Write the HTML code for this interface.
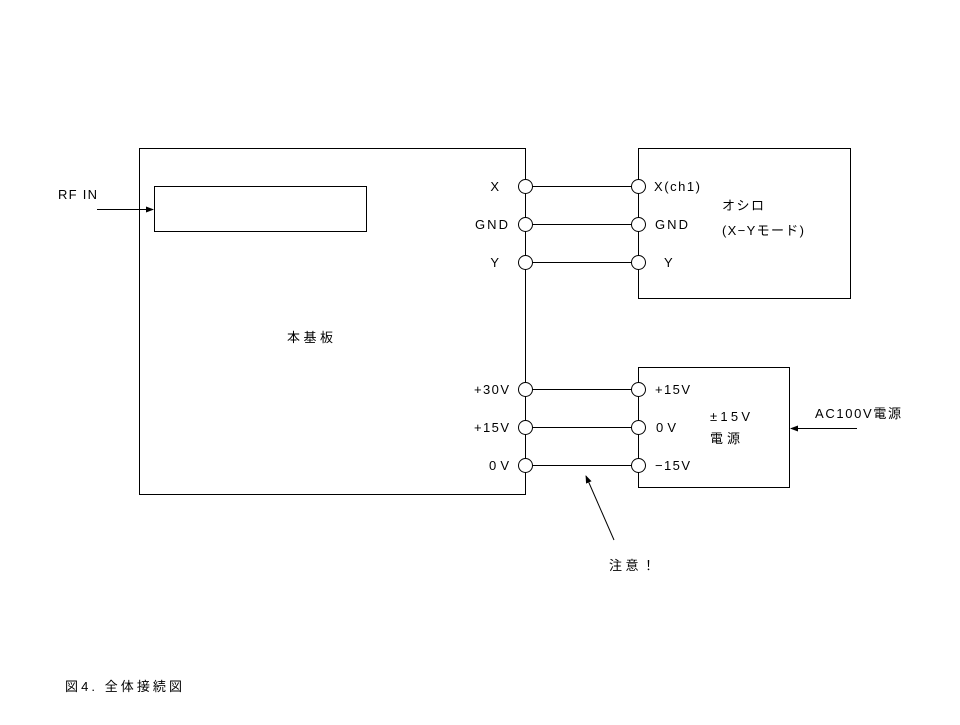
<!DOCTYPE html>
<html><head><meta charset="utf-8"><style>
body{margin:0;background:#fff}
svg text{font-family:"Liberation Sans","Noto Sans CJK JP",sans-serif;font-size:13px;fill:#000}
</style></head><body>
<svg width="960" height="720" viewBox="0 0 960 720" xmlns="http://www.w3.org/2000/svg">
<defs><marker id="a" markerWidth="8" markerHeight="8" refX="7" refY="4" orient="auto" markerUnits="userSpaceOnUse"><path d="M0,1 L8,4 L0,7 z" fill="#000"/></marker></defs>
<g fill="none" stroke="#000" stroke-width="1">
<rect x="139.5" y="148.5" width="386" height="346"/>
<rect x="154.5" y="186.5" width="212" height="45"/>
<rect x="638.5" y="148.5" width="212" height="150"/>
<rect x="638.5" y="367.5" width="151" height="120"/>
<line x1="525.5" y1="186.5" x2="638.5" y2="186.5"/>
<line x1="525.5" y1="224.5" x2="638.5" y2="224.5"/>
<line x1="525.5" y1="262.5" x2="638.5" y2="262.5"/>
<line x1="525.5" y1="389.5" x2="638.5" y2="389.5"/>
<line x1="525.5" y1="427.5" x2="638.5" y2="427.5"/>
<line x1="525.5" y1="465.5" x2="638.5" y2="465.5"/>
<line x1="97" y1="209.5" x2="153" y2="209.5" marker-end="url(#a)"/>
<line x1="857" y1="428.5" x2="791" y2="428.5" marker-end="url(#a)"/>
<line x1="614" y1="540" x2="586" y2="476" marker-end="url(#a)"/>
</g>
<g fill="#fff" stroke="#000">
<circle cx="525.5" cy="186.5" r="7"/><circle cx="525.5" cy="224.5" r="7"/><circle cx="525.5" cy="262.5" r="7"/>
<circle cx="525.5" cy="389.5" r="7"/><circle cx="525.5" cy="427.5" r="7"/><circle cx="525.5" cy="465.5" r="7"/>
<circle cx="638.5" cy="186.5" r="7"/><circle cx="638.5" cy="224.5" r="7"/><circle cx="638.5" cy="262.5" r="7"/>
<circle cx="638.5" cy="389.5" r="7"/><circle cx="638.5" cy="427.5" r="7"/><circle cx="638.5" cy="465.5" r="7"/>
</g>
<text x="58" y="199" textLength="39">RF IN</text>
<text x="287" y="342" textLength="46">本基板</text>
<text x="499" y="191" text-anchor="end">X</text>
<text x="475" y="229" textLength="33">GND</text>
<text x="499" y="267" text-anchor="end">Y</text>
<text x="474" y="394" textLength="35">+30V</text>
<text x="474" y="432" textLength="35">+15V</text>
<text x="489" y="470" textLength="20">0V</text>
<text x="654" y="191" textLength="46">X(ch1)</text>
<text x="655" y="229" textLength="33">GND</text>
<text x="664" y="267">Y</text>
<text x="722" y="210" textLength="42">オシロ</text>
<text x="722" y="235" textLength="82">(X−Yモード)</text>
<text x="655" y="394" textLength="35">+15V</text>
<text x="656" y="432" textLength="20">0V</text>
<text x="655" y="470" textLength="35">−15V</text>
<text x="710" y="421" textLength="40">±15V</text>
<text x="710" y="443" textLength="30">電源</text>
<text x="815" y="418" textLength="86">AC100V電源</text>
<text x="609" y="570" textLength="46">注意！</text>
<text x="65" y="691" textLength="117">図4. 全体接続図</text>
</svg>
</body></html>
